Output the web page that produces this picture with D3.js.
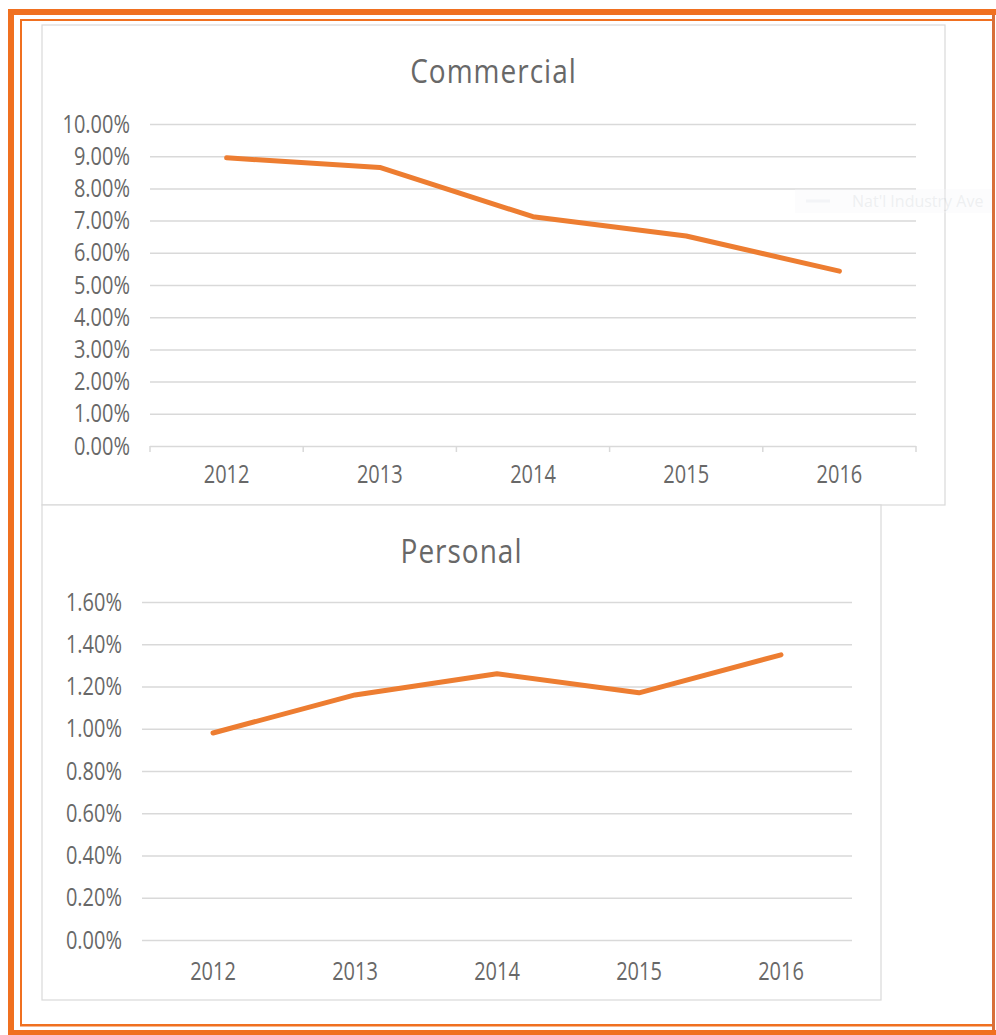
<!DOCTYPE html>
<html>
<head>
<meta charset="utf-8">
<script src="https://cdn.jsdelivr.net/npm/d3@7"></script>
<style>
  body { margin: 0; background: #fff; }
  svg { display: block; font-family: "Open Sans", "Noto Sans", sans-serif; }
</style>
</head>
<body>
<div id="chart"></div>
<script>
// ---- data ----
const years = ["2012", "2013", "2014", "2015", "2016"];
const commercialRates = [0.0895, 0.0865, 0.0712, 0.0652, 0.0543];
const personalRates = [0.0098, 0.0116, 0.0126, 0.0117, 0.0135];
const commercialTicks = [0, 0.01, 0.02, 0.03, 0.04, 0.05, 0.06, 0.07, 0.08, 0.09, 0.10];
const personalTicks = [0, 0.002, 0.004, 0.006, 0.008, 0.010, 0.012, 0.014, 0.016];
const legendLabel = "Nat'l Industry Ave";

const width = 996;
const height = 1035;
const orange = "#f07020";
const lineColor = "#ed7d31";
const gridColor = "#d9d9d9";
const textColor = "#686868";
const textStretch = "scale(1,1.25)"; // reference text is tall and narrow

const svg = d3.select("#chart")
  .append("svg")
  .attr("width", width)
  .attr("height", height);

// one chart panel: box, title, gridlines, labels, line
function drawPanel(opt) {
  const g = svg.append("g");

  g.append("rect")
    .attr("x", opt.box[0]).attr("y", opt.box[1])
    .attr("width", opt.box[2] - opt.box[0])
    .attr("height", opt.box[3] - opt.box[1])
    .attr("fill", "#fff")
    .attr("stroke", gridColor)
    .attr("stroke-width", 1.2);

  g.append("text")
    .attr("transform", `translate(${(opt.box[0] + opt.box[2]) / 2},${opt.titleY}) scale(1,1.2)`)
    .attr("text-anchor", "middle")
    .attr("font-size", 28)
    .attr("letter-spacing", 1)
    .attr("fill", textColor)
    .text(opt.title);

  const x = d3.scaleBand()
    .domain(years)
    .range(opt.xRange);

  const y = d3.scaleLinear()
    .domain([0, opt.max])
    .range(opt.yRange);

  // y axis with gridlines
  const yAxis = g.append("g")
    .attr("transform", `translate(${opt.xRange[0]},0)`)
    .call(d3.axisLeft(y)
      .tickValues(opt.ticks)
      .tickFormat(d3.format(".2%"))
      .tickSize(-(opt.xRange[1] - opt.xRange[0]))
      .tickPadding(20));
  yAxis.select(".domain").remove();
  yAxis.selectAll(".tick line")
    .attr("stroke", gridColor)
    .attr("stroke-width", 1.5);
  yAxis.selectAll(".tick text")
    .attr("fill", textColor)
    .attr("font-size", 20)
    .attr("font-family", "Open Sans, Noto Sans, sans-serif")
    .attr("transform", textStretch);

  // x axis labels
  const xAxis = g.append("g")
    .attr("transform", `translate(0,${opt.yRange[0]})`)
    .call(d3.axisBottom(x).tickSize(0));
  xAxis.select(".domain").remove();
  xAxis.selectAll(".tick text")
    .attr("dy", null)
    .attr("y", opt.labelDrop / 1.25)
    .attr("fill", textColor)
    .attr("font-size", 20)
    .attr("font-family", "Open Sans, Noto Sans, sans-serif")
    .attr("transform", textStretch);

  // tick marks on category boundaries
  if (opt.boundaryTicks) {
    const bounds = years.map(d => x(d)).concat([opt.xRange[1]]);
    g.append("g")
      .selectAll("line")
      .data(bounds)
      .enter()
      .append("line")
      .attr("x1", d => d).attr("x2", d => d)
      .attr("y1", opt.yRange[0]).attr("y2", opt.yRange[0] + 6)
      .attr("stroke", gridColor)
      .attr("stroke-width", 1.5);
  }

  const line = d3.line()
    .x((d, i) => x(years[i]) + x.bandwidth() / 2)
    .y(d => y(d));

  g.append("path")
    .datum(opt.values)
    .attr("d", line)
    .attr("fill", "none")
    .attr("stroke", lineColor)
    .attr("stroke-width", 5)
    .attr("stroke-linejoin", "round")
    .attr("stroke-linecap", "round");
}

drawPanel({
  title: "Commercial",
  box: [42, 25, 945, 505],
  titleY: 83,
  xRange: [150, 916],
  yRange: [446, 124],
  max: 0.10,
  ticks: commercialTicks,
  values: commercialRates,
  labelDrop: 37,
  boundaryTicks: true
});

drawPanel({
  title: "Personal",
  box: [42, 505, 881, 1000],
  titleY: 563,
  xRange: [142, 852],
  yRange: [940, 602],
  max: 0.016,
  ticks: personalTicks,
  values: personalRates,
  labelDrop: 40,
  boundaryTicks: false
});

// faint, half-hidden legend at the right of the top chart
const legend = svg.append("g").attr("opacity", 0.3);
legend.append("rect")
  .attr("x", 795).attr("y", 189).attr("width", 200).attr("height", 24)
  .attr("fill", "#f6f8fb");
legend.append("line")
  .attr("x1", 806).attr("x2", 830).attr("y1", 201).attr("y2", 201)
  .attr("stroke", "#d8dde6").attr("stroke-width", 3);
legend.append("text")
  .attr("x", 852).attr("y", 207)
  .attr("font-size", 16)
  .attr("fill", "#c8ccd2")
  .text(legendLabel);

// orange double frame
const frame = svg.append("g");
frame.append("rect").attr("x", 8).attr("y", 9).attr("width", 988).attr("height", 6).attr("fill", orange);
frame.append("rect").attr("x", 8).attr("y", 9).attr("width", 6).attr("height", 1026).attr("fill", orange);
frame.append("rect").attr("x", 8).attr("y", 1030).attr("width", 988).attr("height", 5).attr("fill", orange);
frame.append("rect").attr("x", 20).attr("y", 19).attr("width", 973).attr("height", 2).attr("fill", orange);
frame.append("rect").attr("x", 20).attr("y", 19).attr("width", 2).attr("height", 1007).attr("fill", orange);
frame.append("rect").attr("x", 20).attr("y", 1024).attr("width", 973).attr("height", 2.5).attr("fill", orange);
frame.append("rect").attr("x", 992).attr("y", 15).attr("width", 3).attr("height", 1015).attr("fill", "#d8703a");
</script>
</body>
</html>
